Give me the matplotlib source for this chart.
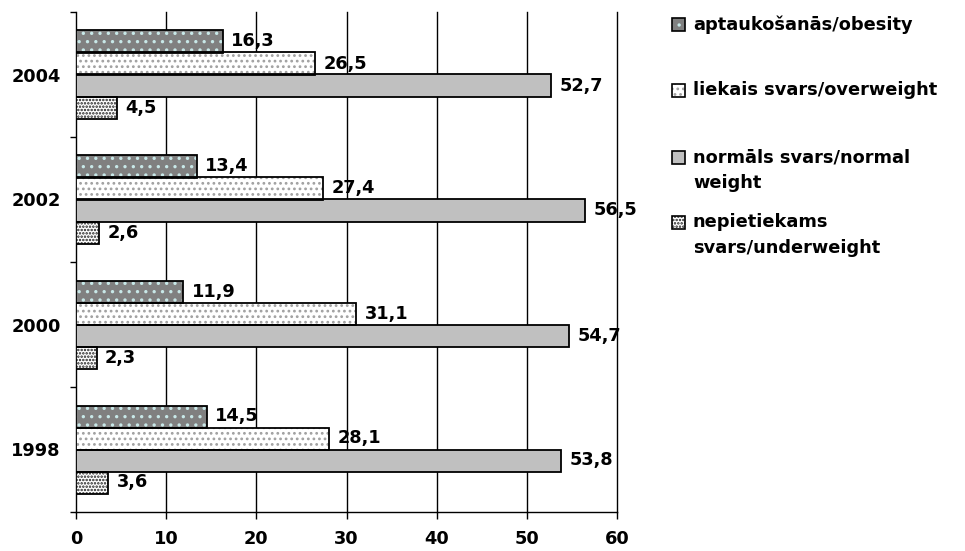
import matplotlib
matplotlib.use("Agg")
import matplotlib.pyplot as plt
from matplotlib.patches import Rectangle
import numpy as np

years = ["1998", "2000", "2002", "2004"]
obesity = [14.5, 11.9, 13.4, 16.3]
overweight = [28.1, 31.1, 27.4, 26.5]
normal = [53.8, 54.7, 56.5, 52.7]
underweight = [3.6, 2.3, 2.6, 4.5]
series_labels = ["aptaukošanās/obesity", "liekais svars/overweight",
                 "normāls svars/normal\nweight", "nepietiekams\nsvars/underweight"]
x_ticks = [0, 10, 20, 30, 40, 50, 60]

plt.rcParams['font.family'] = ['DejaVu Sans']
plt.rcParams['font.weight'] = 'bold'
plt.rcParams['hatch.linewidth'] = 1.2

FS = 12.8
W, H = 965, 551
fig = plt.figure(figsize=(W / 100, H / 100), dpi=100)
ax = fig.add_axes([76 / W, 39 / H, 541 / W, 500 / H])

series = [obesity, overweight, normal, underweight]
styles = [
    dict(face="#808080", hatch="..", hcol="#c8e8e8"),
    dict(face="#ffffff", hatch="...", hcol="#a0a0a0"),
    dict(face="#c0c0c0", hatch=None, hcol="#c0c0c0"),
    dict(face="#ffffff", hatch=".....", hcol="#202020"),
]
h = 0.176
centers = np.arange(len(years)) + 0.5
offsets = [1.5 * h, 0.5 * h, -0.5 * h, -1.5 * h]

for vals, st, off in zip(series, styles, offsets):
    ypos = centers + off
    ax.barh(ypos, vals, height=h, color=st["face"], edgecolor=st["hcol"],
            hatch=st["hatch"], linewidth=0, zorder=3)
    ax.barh(ypos, vals, height=h, facecolor="none", edgecolor="black",
            linewidth=1.3, zorder=4)
    for y, v in zip(ypos, vals):
        ax.annotate(f"{v:.1f}".replace(".", ","), xy=(v, y), xytext=(6, 0),
                    textcoords="offset points", va="center", ha="left",
                    fontsize=FS, fontweight="bold", zorder=5)

ax.set_xlim(0, 60)
ax.set_ylim(0, len(years))
ax.set_xticks(x_ticks)
ax.set_xticklabels([str(t) for t in x_ticks], fontsize=FS, fontweight="bold")
ax.tick_params(axis="x", direction="out", length=5, width=1, pad=8)

ax.set_yticks(np.arange(len(years) + 1))
ax.set_yticklabels([])
ax.tick_params(axis="y", which="major", direction="out", length=4, width=1)
ax.set_yticks(centers, minor=True)
ax.set_yticklabels(years, minor=True, fontsize=FS, fontweight="bold")
ax.tick_params(axis="y", which="minor", length=0, pad=11)

for t in x_ticks[1:]:
    ax.axvline(t, color="black", linewidth=1, zorder=1, clip_on=False)

ax.spines["top"].set_visible(False)
ax.spines["right"].set_visible(False)
ax.spines["left"].set_linewidth(1)
ax.spines["bottom"].set_linewidth(1)

# legend drawn manually
leg_y = [24.5, 90, 157, 222]
for lab, st, yc in zip(series_labels, styles, leg_y):
    x0, sz = 672, 13
    yb = H - yc - sz / 2
    fig.patches.append(Rectangle((x0 / W, yb / H), sz / W, sz / H,
                                 transform=fig.transFigure, facecolor=st["face"],
                                 edgecolor=st["hcol"], hatch=st["hatch"], linewidth=0))
    fig.patches.append(Rectangle((x0 / W, yb / H), sz / W, sz / H,
                                 transform=fig.transFigure, facecolor="none",
                                 edgecolor="black", linewidth=1.2))
    for k, line in enumerate(lab.split("\n")):
        fig.text(693 / W, 1 - (yc + 26 * k) / H, line, fontsize=FS,
                 fontweight="bold", va="center", ha="left")

fig.savefig("out.png", dpi=100)
